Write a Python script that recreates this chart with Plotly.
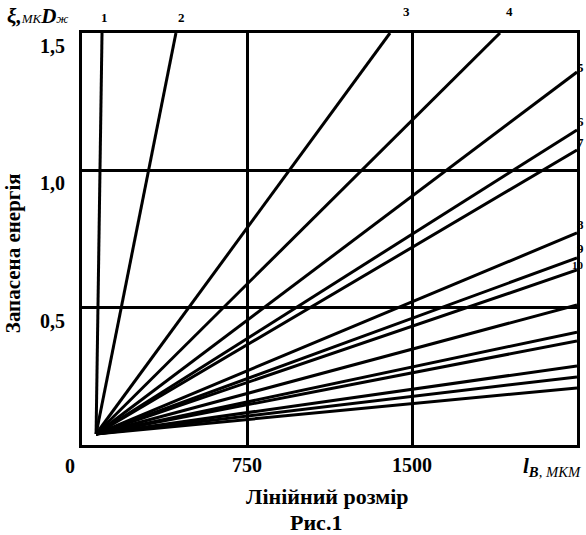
import plotly.graph_objects as go

# ---- data ----
line_names = ["1", "2", "3", "4", "5", "6", "7", "8", "9", "10",
              "11", "12", "13", "14", "15", "16"]
origin_x = 64.0      # common starting point of the fan, мкм
origin_y = 0.04
end_x = [91, 427, 1400, 1900, 2250, 2250, 2250, 2250, 2250, 2250,
         2250, 2250, 2250, 2250, 2250, 2250]
end_y = [1.5, 1.5, 1.5, 1.5, 1.358, 1.147, 1.074, 0.772, 0.681, 0.637,
         0.510, 0.411, 0.379, 0.288, 0.248, 0.208]

# curve labels shown in the figure (number, x, y in data units)
label_text = ["1", "2", "3", "4", "5", "6", "7", "8", "9", "10"]
label_x = [100, 450, 1473, 1945, 2293, 2293, 2293, 2293, 2293, 2293]
label_y = [1.558, 1.558, 1.577, 1.577, 1.373, 1.176, 1.100, 0.801, 0.714, 0.655]

x_tick_vals = [750, 1500]
x_tick_text = ["750", "1500"]
y_tick_vals = [0.5, 1.0, 1.5]
y_tick_text = ["0,5", "1,0", "1,5"]

X_RANGE = [0, 2250]
Y_RANGE = [0, 1.5]
SERIF = "Liberation Serif"

fig = go.Figure()
for name, xe, ye in zip(line_names, end_x, end_y):
    fig.add_trace(go.Scatter(
        x=[origin_x, xe], y=[origin_y, ye], mode="lines", name=name,
        line=dict(color="black", width=3), showlegend=False, hoverinfo="skip"))

annotations = []
for t, lx, ly in zip(label_text, label_x, label_y):
    # labels sit outside the axis range, so place them in paper units
    px = (lx - X_RANGE[0]) / (X_RANGE[1] - X_RANGE[0])
    py = (ly - Y_RANGE[0]) / (Y_RANGE[1] - Y_RANGE[0])
    right = lx > X_RANGE[1]
    annotations.append(dict(
        x=px, y=py, xref="paper", yref="paper", text="<b>" + t + "</b>",
        showarrow=False, xanchor="right" if right else "center",
        yanchor="middle",
        font=dict(family=SERIF, size=(11 if len(t) > 1 else 13), color="black")))

annotations += [
    dict(x=0, y=0, xref="paper", yref="paper", text="<b>0</b>", showarrow=False,
         xanchor="center", yanchor="top",
         xshift=-12, yshift=-8, font=dict(family=SERIF, size=20, color="black")),
    dict(x=1.012, y=-0.053, xref="paper", yref="paper", xanchor="right",
         yanchor="middle", showarrow=False,
         text="<b><i>l</i></b><i><sub><b>B</b>, МКМ</sub></i>",
         font=dict(family=SERIF, size=21, color="black")),
    dict(x=-0.1556, y=1.041, xref="paper", yref="paper", xanchor="left",
         yanchor="middle", showarrow=False,
         text=("<b><i>ξ,</i></b><i><span style='font-size:13px'>МК</span></i>"
               "<b><i>D</i></b><i><span style='font-size:13px'>ж</span></i>"),
         font=dict(family=SERIF, size=21, color="black")),
    dict(x=-0.139, y=0.466, xref="paper", yref="paper", textangle=-90,
         xanchor="center", yanchor="middle",
         showarrow=False, text="<b>Запасена енергія</b>",
         font=dict(family=SERIF, size=21, color="black")),
    dict(x=0.495, y=-0.124, xref="paper", yref="paper", showarrow=False,
         xanchor="center", yanchor="middle",
         text="<b>Лінійний розмір</b>",
         font=dict(family=SERIF, size=22, color="black")),
    dict(x=0.473, y=-0.187, xref="paper", yref="paper", showarrow=False,
         xanchor="center", yanchor="middle",
         text="<b>Рис.1</b>",
         font=dict(family=SERIF, size=22, color="black")),
]

fig.update_layout(
    width=586, height=535,
    margin=dict(l=82, r=9, t=33, b=90),
    paper_bgcolor="white", plot_bgcolor="white",
    annotations=annotations,
    xaxis=dict(range=X_RANGE, tickvals=x_tick_vals, ticktext=x_tick_text,
               showgrid=True, gridcolor="black", gridwidth=3,
               showline=True, mirror=True, linecolor="black", linewidth=3,
               zeroline=False, ticks="", ticklabelstandoff=0, automargin=False,
               tickfont=dict(family=SERIF, size=20, color="black", weight="bold")),
    yaxis=dict(range=Y_RANGE, tickvals=y_tick_vals, ticktext=y_tick_text,
               showgrid=True, gridcolor="black", gridwidth=3,
               showline=True, mirror=True, linecolor="black", linewidth=3,
               zeroline=False, ticks="", ticklabelstandoff=10,
               ticklabelshift=13, automargin=False,
               tickfont=dict(family=SERIF, size=20, color="black", weight="bold")),
)

# make the 586x535 figure fill the browser window exactly (no body margin / scrollbars)
page_fix = ("document.documentElement.style.margin='0';"
            "document.documentElement.style.overflow='hidden';"
            "document.body.style.margin='0';"
            "document.body.style.overflow='hidden';")
fig.write_html("out.html", post_script=page_fix,
               config=dict(displayModeBar=False, staticPlot=True))
